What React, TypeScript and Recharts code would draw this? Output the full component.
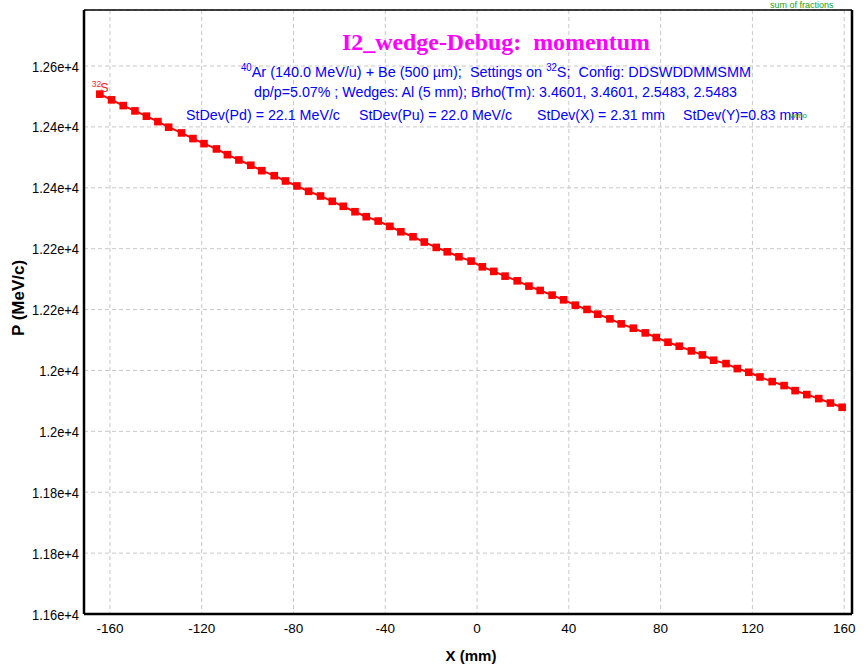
import React from "react";
import {
  LineChart,
  Line,
  XAxis,
  YAxis,
  CartesianGrid,
  ReferenceLine,
  ReferenceDot,
} from "recharts";

// X position (mm) of each point
const xValues = [
  -164.4, -159.3, -154.2, -149.1, -144.1, -139.1, -134.4, -128.8, -123.8, -119.0,
  -113.6, -108.8, -103.8, -98.6, -93.8, -88.4, -83.5, -78.5, -73.4, -68.2,
  -63.1, -58.3, -53.2, -48.3, -43.1, -38.0, -33.2, -27.9, -23.0, -17.8,
  -13.0, -7.9, -2.6, 2.3, 7.3, 12.2, 17.5, 22.6, 27.5, 32.7,
  37.7, 42.8, 47.9, 52.6, 57.9, 62.8, 68.1, 73.3, 78.1, 83.2,
  88.1, 93.4, 98.2, 103.1, 108.5, 113.4, 118.4, 123.3, 128.6, 133.8,
  138.6, 143.7, 148.9, 154.0, 159.1,
];

// Momentum P (MeV/c) of each point
const pValues = [
  12453.8, 12444.4, 12435.0, 12426.3, 12417.6, 12408.7, 12399.5, 12390.1, 12380.8, 12372.5,
  12363.8, 12354.4, 12345.7, 12337.0, 12328.1, 12319.9, 12311.2, 12303.0, 12294.2, 12286.5,
  12277.8, 12269.6, 12260.7, 12252.5, 12245.4, 12236.7, 12227.8, 12219.6, 12210.9, 12202.1,
  12194.9, 12186.7, 12179.6, 12170.2, 12162.7, 12154.9, 12147.2, 12138.5, 12131.4, 12123.7,
  12116.0, 12107.2, 12100.2, 12092.4, 12084.7, 12076.5, 12069.4, 12061.7, 12054.1, 12046.4,
  12039.8, 12032.1, 12025.5, 12016.8, 12011.3, 12003.1, 11997.0, 11989.3, 11981.7, 11975.2,
  11966.9, 11960.4, 11953.8, 11946.5, 11939.5,
];

const xTicks = [-160, -120, -80, -40, 0, 40, 80, 120, 160];
const yTicks = [11600, 11700, 11800, 11900, 12000, 12100, 12200, 12300, 12400, 12500];
const yTickLabels = [
  "1.16e+4", "1.18e+4", "1.18e+4", "1.2e+4", "1.2e+4",
  "1.22e+4", "1.22e+4", "1.24e+4", "1.24e+4", "1.26e+4",
];
const xDomain = [-171.3, 163.4];
const yDomain = [11600, 12592];

const data = xValues.map((x, i) => ({ x, p: pValues[i] }));

const SANS = "'Liberation Sans', Arial, sans-serif";
const SERIF = "'Liberation Serif', 'Times New Roman', serif";

const XTick = (props: any) => {
  const { x, y, payload } = props;
  return (
    <text x={x} y={y + 13.5} textAnchor="middle" fontSize={13.5} fontFamily={SANS} fill="#000">
      {payload.value}
    </text>
  );
};

const YTick = (props: any) => {
  const { x, y, payload } = props;
  const idx = yTicks.indexOf(payload.value);
  return (
    <g transform={`translate(${x},${y + 5.5})`}>
      <text transform="scale(0.86,1)" textAnchor="end" fontSize={15} fontFamily={SANS} fill="#000">
        {idx >= 0 ? yTickLabels[idx] : payload.value}
      </text>
    </g>
  );
};

const renderDot = (props: any) => {
  const { cx, cy, index } = props;
  if (cx == null || cy == null) return <g key={`d${index}`} />;
  return <rect key={`d${index}`} x={cx - 3.8} y={cy - 3.8} width={7.6} height={7.6} fill="#ff0000" />;
};

const IsotopeLabel = (props: any) => {
  const { cx, cy } = props;
  if (cx == null || cy == null) return <g />;
  return (
    <text fontFamily={SANS} fill="#ff2020">
      <tspan x={cx - 8} y={cy - 7.5} fontSize={8.5}>32</tspan>
      <tspan x={cx + 0.4} y={cy - 2.6} fontSize={12.5}>S</tspan>
    </text>
  );
};

export default function App() {
  return (
    <div style={{ position: "absolute", left: 0, top: 0, width: 866, height: 664, background: "#fff" }}>
      <LineChart width={866} height={664} data={data} margin={{ top: 10, right: 14, bottom: 0, left: 0 }}>
        <CartesianGrid strokeDasharray="4 3" stroke="#c8c8c8" />
        <XAxis
          type="number"
          dataKey="x"
          domain={xDomain}
          ticks={xTicks}
          interval={0}
          allowDataOverflow
          height={50}
          tickLine={false}
          tickSize={3}
          tickMargin={2}
          axisLine={{ stroke: "#000", strokeWidth: 2.5 }}
          tick={<XTick />}
        />
        <YAxis
          type="number"
          domain={yDomain}
          ticks={yTicks}
          interval={0}
          allowDataOverflow
          width={84}
          tickLine={false}
          tickSize={3}
          tickMargin={2}
          axisLine={{ stroke: "#000", strokeWidth: 2.5 }}
          tick={<YTick />}
        />
        <ReferenceLine x={xDomain[1]} stroke="#000" strokeWidth={2.5} />
        <ReferenceLine y={yDomain[1]} stroke="#000" strokeWidth={1.5} />
        <Line
          type="linear"
          dataKey="p"
          stroke="#ff0000"
          strokeWidth={2}
          dot={renderDot}
          activeDot={false}
          isAnimationActive={false}
        />
        <ReferenceDot x={xValues[0]} y={pValues[0]} r={0} shape={<IsotopeLabel />} />
      </LineChart>
      <svg
        width={866}
        height={664}
        style={{ position: "absolute", left: 0, top: 0, pointerEvents: "none" }}
      >
        <text x={342} y={50} textLength={308} lengthAdjust="spacingAndGlyphs" fontFamily={SERIF} fontWeight="bold" fontSize={24} fill="#ff00ff" style={{ whiteSpace: "pre" }}>
          I2_wedge-Debug:  momentum
        </text>
        <text x={241} y={77} textLength={510} lengthAdjust="spacingAndGlyphs" fontFamily={SANS} fontSize={15} fill="#0000ff" style={{ whiteSpace: "pre" }}>
          <tspan fontSize={10} dy={-6}>40</tspan>
          <tspan dy={6}>Ar (140.0 MeV/u) + Be (500 µm);  Settings on </tspan>
          <tspan fontSize={10} dy={-6}>32</tspan>
          <tspan dy={6}>S;  Config: DDSWDDMMSMM</tspan>
        </text>
        <text x={254} y={97} textLength={483} lengthAdjust="spacingAndGlyphs" fontFamily={SANS} fontSize={14.5} fill="#0000ff" style={{ whiteSpace: "pre" }}>
          dp/p=5.07% ; Wedges: Al (5 mm); Brho(Tm): 3.4601, 3.4601, 2.5483, 2.5483
        </text>
        <text x={186} y={120} textLength={154} lengthAdjust="spacingAndGlyphs" fontFamily={SANS} fontSize={14.5} fill="#0000ff">
          StDev(Pd) = 22.1 MeV/c
        </text>
        <text x={359} y={120} textLength={153} lengthAdjust="spacingAndGlyphs" fontFamily={SANS} fontSize={14.5} fill="#0000ff">
          StDev(Pu) = 22.0 MeV/c
        </text>
        <text x={537} y={120} textLength={128} lengthAdjust="spacingAndGlyphs" fontFamily={SANS} fontSize={14.5} fill="#0000ff">
          StDev(X) = 2.31 mm
        </text>
        <text x={683} y={120} textLength={120} lengthAdjust="spacingAndGlyphs" fontFamily={SANS} fontSize={14.5} fill="#0000ff">
          StDev(Y)=0.83 mm
        </text>
        <text x={790} y={118} fontFamily={SANS} fontSize={8} fill="#20a020">wmo</text>
        <text x={770} y={8} fontFamily={SANS} fontSize={9} fill="#20a020">sum of fractions</text>
        <text
          transform="translate(24,298) rotate(-90)"
          textAnchor="middle"
          fontFamily={SANS}
          fontWeight="bold"
          fontSize={17}
          fill="#000"
        >
          P (MeV/c)
        </text>
        <text x={471} y={661} textAnchor="middle" fontFamily={SANS} fontWeight="bold" fontSize={15} fill="#000">
          X (mm)
        </text>
      </svg>
    </div>
  );
}
